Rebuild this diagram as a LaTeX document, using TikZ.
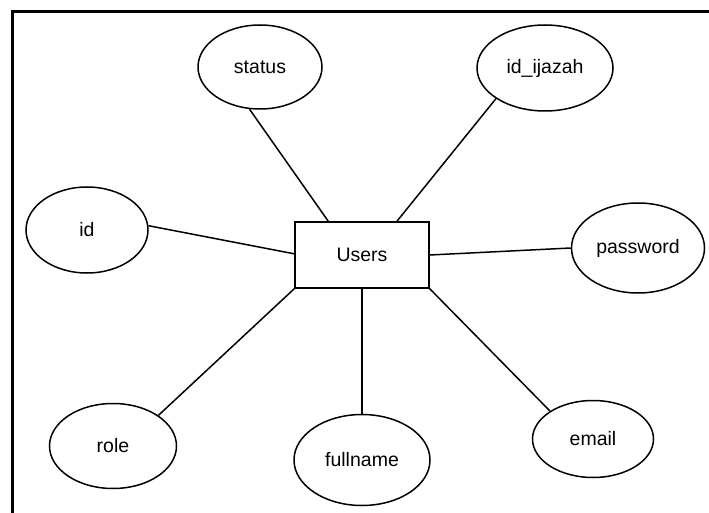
\documentclass[tikz,border=0pt]{standalone}
\usepackage{fontspec}
\setmainfont{Liberation Sans}
\usetikzlibrary{shapes.geometric}
\begin{document}
\begin{tikzpicture}[x=1pt, y=-1pt, line width=1.5pt,
  attr/.style={draw, ellipse, inner sep=0pt, font=\fontsize{19.5}{23}\selectfont},
  entity/.style={draw, rectangle, inner sep=0pt, minimum width=134pt, minimum height=66pt, font=\fontsize{19.5}{23}\selectfont}]

\useasboundingbox (0,0) rectangle (709,513);

% Cornice
\draw[line width=3pt] (12.5,513) -- (12.5,11.5) -- (709,11.5);

% Entita
\node[entity] (users) at (362,255) {Users};

% Attributi
\foreach \name/\x/\y/\w/\h/\label in {status/260/67/124/84/status,
                                     ijazah/545/68/136/86/id\_ijazah,
                                     id/87/230/122/86/id,
                                     password/638/248/133/90/password,
                                     role/113/446/127/85/role,
                                     fullname/362/460/136/91/fullname,
                                     email/593/439/121/77/email}
  \node[attr, minimum width=\w, minimum height=\h] (\name) at (\x,\y) {\label};

% Collegamenti
\foreach \a/\b in {status.-104/users.135, ijazah.-148/users.44,
                   id.4/users.179, password.180/users.0,
                   role.34/users.south west, fullname.north/users.south,
                   email.147/users.south east}
  \draw (\a) -- (\b);

\end{tikzpicture}
\end{document}
